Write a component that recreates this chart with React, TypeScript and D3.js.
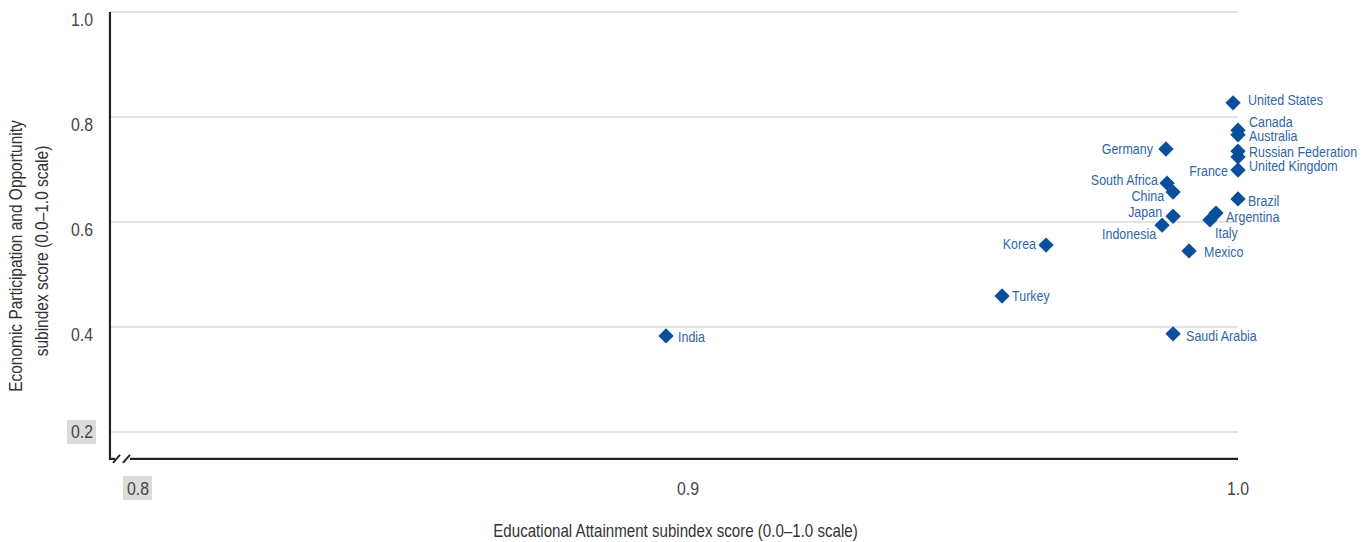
import React from "react";
import * as d3 from "d3";

const countries = ["United States","Canada","Australia","Russian Federation","United Kingdom","France","Germany","South Africa","China","Japan","Indonesia","Brazil","Argentina","Italy","Mexico","Saudi Arabia","Korea","Turkey","India"];
const educationScores = [0.9991,1.0,1.0,1.0,1.0,1.0,0.9869,0.9871,0.9882,0.9882,0.9862,1.0,0.996,0.9949,0.9911,0.9882,0.9651,0.9571,0.896];
const economicScores = [0.827,0.775,0.766,0.735,0.724,0.699,0.739,0.674,0.657,0.611,0.594,0.644,0.617,0.604,0.545,0.387,0.556,0.459,0.383];
const xTicks = [0.8, 0.9, 1.0];
const yTicks = [0.2, 0.4, 0.6, 0.8, 1.0];

// label placement: [dx, dy, anchor]
const labelPlacement: Record<string, [number, number, "start" | "end"]> = {
  "United States": [15, -3, "start"],
  "Canada": [11, -8, "start"],
  "Australia": [11, 1, "start"],
  "Russian Federation": [11, 1, "start"],
  "United Kingdom": [11, 9, "start"],
  "France": [-10, 1, "end"],
  "Germany": [-13, 0, "end"],
  "South Africa": [-9, -3, "end"],
  "China": [-9, 4, "end"],
  "Japan": [-11, -4, "end"],
  "Indonesia": [-6, 9, "end"],
  "Brazil": [10, 2, "start"],
  "Argentina": [10, 4, "start"],
  "Italy": [5, 13, "start"],
  "Mexico": [15, 1, "start"],
  "Saudi Arabia": [13, 2, "start"],
  "Korea": [-10, -1, "end"],
  "Turkey": [10, 0, "start"],
  "India": [12, 1, "start"],
};

const W = 1371, H = 542;
const FONT = "'Liberation Sans', Arial, sans-serif";

function T(props: { x: number; y: number; anchor?: "start" | "middle" | "end"; size: number; fill: string; sx?: number; rotate?: number; children: React.ReactNode }) {
  const { x, y, anchor = "start", size, fill, sx = 0.86, rotate = 0, children } = props;
  return (
    <text
      transform={`translate(${x},${y})${rotate ? ` rotate(${rotate})` : ""} scale(${sx},1)`}
      dy="0.35em"
      textAnchor={anchor}
      fontFamily={FONT}
      fontSize={size}
      fill={fill}
    >
      {children}
    </text>
  );
}

export default function App() {
  const x = d3.scaleLinear().domain([0.8, 1.0]).range([138, 1238]);
  const y = d3.scaleLinear().domain([0.2, 1.0]).range([432, 12]);
  const xLeft = x(0.7949);
  const yBottom = y(0.1489);
  const xRight = x(1.0);
  const diamond = d3.symbol().type(d3.symbolSquare).size(118)();

  return (
    <svg width={W} height={H} style={{ position: "absolute", left: 0, top: 0, background: "#fff" }}>
      {/* gridlines */}
      {yTicks.map((t) => (
        <line key={"g" + t} x1={xLeft} x2={xRight} y1={y(t)} y2={y(t)} stroke="#d9d9d9" strokeWidth={1.5} />
      ))}
      {/* y tick labels */}
      {yTicks.map((t, i) => {
        const first = i === 0;
        const cy = first ? y(t) : y(t) + 8;
        return (
          <g key={"yl" + t}>
            {first && <rect x={67} y={cy - 12} width={29} height={24} fill="#dcdcdc" />}
            <T x={93} y={cy} anchor="end" size={18} fill="#444" sx={0.88}>
              {t.toFixed(1)}
            </T>
          </g>
        );
      })}
      {/* x tick labels */}
      {xTicks.map((t, i) => (
        <g key={"xl" + t}>
          {i === 0 && <rect x={x(t) - 15} y={476} width={29} height={24} fill="#dcdcdc" />}
          <T x={x(t)} y={489} anchor="middle" size={18} fill="#444" sx={0.88}>
            {t.toFixed(1)}
          </T>
        </g>
      ))}
      {/* axes */}
      <path d={`M${xLeft},${y(1.0)} L${xLeft},${yBottom} L${xLeft + 5},${yBottom}`} fill="none" stroke="#222" strokeWidth={2.2} />
      <line x1={xLeft + 20} x2={xRight} y1={yBottom} y2={yBottom} stroke="#222" strokeWidth={2.2} />
      <line x1={xLeft + 3} y1={yBottom + 4} x2={xLeft + 10} y2={yBottom - 4} stroke="#222" strokeWidth={2} />
      <line x1={xLeft + 13} y1={yBottom + 4} x2={xLeft + 20} y2={yBottom - 4} stroke="#222" strokeWidth={2} />
      {/* axis titles */}
      <T x={675.5} y={531} anchor="middle" size={18} fill="#333" sx={0.84}>
        Educational Attainment subindex score (0.0–1.0 scale)
      </T>
      <T x={16} y={256} anchor="middle" size={18} fill="#333" sx={0.86} rotate={-90}>
        Economic Participation and Opportunity
      </T>
      <T x={42} y={251} anchor="middle" size={18} fill="#333" sx={0.86} rotate={-90}>
        subindex score (0.0–1.0 scale)
      </T>
      {/* points */}
      {countries.map((c, i) => {
        const px = x(educationScores[i]);
        const py = y(economicScores[i]);
        return (
          <path key={"p" + c} d={diamond} transform={`translate(${px},${py}) rotate(45)`} fill="#0a4f9c" />
        );
      })}
      {/* labels */}
      {countries.map((c, i) => {
        const px = x(educationScores[i]);
        const py = y(economicScores[i]);
        const [dx, dy, anchor] = labelPlacement[c];
        return (
          <T key={"t" + c} x={px + dx} y={py + dy} anchor={anchor} size={14.5} fill="#2f67a6" sx={0.86}>
            {c}
          </T>
        );
      })}
    </svg>
  );
}
